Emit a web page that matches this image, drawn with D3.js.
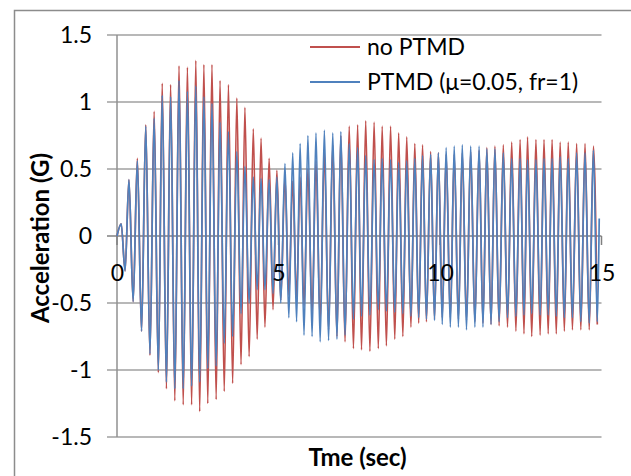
<!DOCTYPE html>
<html>
<head>
<meta charset="utf-8">
<script src="https://cdn.jsdelivr.net/npm/d3@7"></script>
<style>
  html, body { margin: 0; padding: 0; background: #fff; }
  svg { display: block; }
  text { font-family: Lato, "Open Sans", sans-serif; fill: #000; }
</style>
</head>
<body>
<svg id="chart" width="631" height="476"></svg>
<script>
// ---- Data ----
const seriesNames = ["no PTMD", "PTMD (\u03bc=0.05, fr=1)"];
const seriesColors = ["#C0504D", "#4F81BD"];

const xTicks = [0, 5, 10, 15];
const yTicks = [-1.5, -1, -0.5, 0, 0.5, 1, 1.5];

// initial transient (shared by both series)
const startTimes = [0, 0.13, 0.25];
const startValues = [0, 0.09, -0.26];

// times of positive peaks and of negative troughs (sec)
const peakTimes = [0.37, 0.63, 0.89, 1.15, 1.40, 1.66, 1.92, 2.18, 2.44, 2.69,
  2.94, 3.19, 3.45, 3.71, 3.96, 4.22, 4.46, 4.71, 4.95, 5.20,
  5.44, 5.67, 5.91, 6.16, 6.42, 6.68, 6.93, 7.19, 7.45, 7.70,
  7.96, 8.21, 8.47, 8.72, 8.97, 9.22, 9.46, 9.71, 9.95, 10.19,
  10.44, 10.69, 10.95, 11.21, 11.45, 11.70, 11.96, 12.22, 12.48, 12.71,
  12.97, 13.22, 13.47, 13.72, 13.97, 14.23, 14.49, 14.75];
const troughTimes = [0.50, 0.76, 1.02, 1.28, 1.53, 1.79, 2.05, 2.31, 2.56, 2.81,
  3.07, 3.32, 3.58, 3.84, 4.09, 4.34, 4.58, 4.83, 5.07, 5.32,
  5.56, 5.79, 6.04, 6.29, 6.55, 6.81, 7.06, 7.32, 7.57, 7.83,
  8.09, 8.34, 8.60, 8.85, 9.10, 9.34, 9.58, 9.83, 10.07, 10.32,
  10.57, 10.82, 11.08, 11.33, 11.58, 11.83, 12.09, 12.35, 12.60, 12.84,
  13.10, 13.35, 13.60, 13.85, 14.10, 14.36, 14.62, 14.87];

// no PTMD (G)
const noPtmdPeaks = [0.42, 0.58, 0.83, 0.93, 1.14, 1.13, 1.27, 1.26, 1.31, 1.28,
  1.28, 1.16, 1.13, 1.03, 0.96, 0.80, 0.73, 0.58, 0.49, 0.44,
  0.41, 0.44, 0.50, 0.56, 0.62, 0.68, 0.75, 0.82, 0.83, 0.86,
  0.85, 0.82, 0.82, 0.77, 0.74, 0.69, 0.68, 0.63, 0.62, 0.61,
  0.61, 0.62, 0.63, 0.64, 0.66, 0.67, 0.68, 0.70, 0.72, 0.74,
  0.72, 0.72, 0.72, 0.70, 0.70, 0.69, 0.69, 0.67];
const noPtmdTroughs = [-0.49, -0.71, -0.89, -1.02, -1.14, -1.23, -1.26, -1.26, -1.31, -1.25,
  -1.22, -1.16, -1.10, -0.96, -0.90, -0.77, -0.68, -0.55, -0.48, -0.44,
  -0.46, -0.52, -0.58, -0.64, -0.70, -0.75, -0.79, -0.84, -0.85, -0.86,
  -0.84, -0.82, -0.77, -0.75, -0.68, -0.65, -0.64, -0.62, -0.61, -0.61,
  -0.62, -0.63, -0.64, -0.65, -0.66, -0.67, -0.68, -0.71, -0.73, -0.75,
  -0.74, -0.73, -0.73, -0.71, -0.70, -0.70, -0.70, -0.66];

// PTMD (mu=0.05, fr=1) (G)
const ptmdPeaks = [0.42, 0.56, 0.82, 0.88, 1.05, 1.04, 1.16, 1.08, 1.12, 1.04,
  0.99, 0.85, 0.78, 0.63, 0.52, 0.44, 0.43, 0.42, 0.44, 0.54,
  0.62, 0.69, 0.75, 0.77, 0.79, 0.77, 0.78, 0.69, 0.66, 0.60,
  0.57, 0.58, 0.57, 0.55, 0.56, 0.58, 0.60, 0.61, 0.62, 0.66,
  0.67, 0.68, 0.67, 0.67, 0.65, 0.65, 0.62, 0.58, 0.58, 0.57,
  0.57, 0.58, 0.58, 0.59, 0.58, 0.62, 0.62, 0.64];
const ptmdTroughs = [-0.49, -0.71, -0.88, -1.00, -1.09, -1.14, -1.14, -1.12, -1.09, -0.99,
  -0.97, -0.80, -0.75, -0.58, -0.50, -0.40, -0.40, -0.43, -0.50, -0.61,
  -0.64, -0.74, -0.75, -0.79, -0.78, -0.77, -0.74, -0.62, -0.60, -0.59,
  -0.55, -0.56, -0.57, -0.58, -0.60, -0.61, -0.62, -0.63, -0.66, -0.68,
  -0.68, -0.70, -0.68, -0.68, -0.66, -0.64, -0.61, -0.60, -0.59, -0.58,
  -0.59, -0.59, -0.60, -0.61, -0.61, -0.64, -0.65, -0.64];
const ptmdTailTimes = [14.93];
const ptmdTailValues = [0.13];

// ---- Build point lists ----
function buildSeries(peaks, troughs, tailT, tailV) {
  const pts = [];
  startTimes.forEach((t, i) => pts.push({ t, v: startValues[i] }));
  peakTimes.forEach((t, i) => pts.push({ t, v: peaks[i] }));
  troughTimes.forEach((t, i) => pts.push({ t, v: troughs[i] }));
  tailT.forEach((t, i) => pts.push({ t, v: tailV[i] }));
  pts.sort((a, b) => a.t - b.t);
  return pts;
}
const series = [
  buildSeries(noPtmdPeaks, noPtmdTroughs, [], []),
  buildSeries(ptmdPeaks, ptmdTroughs, ptmdTailTimes, ptmdTailValues)
];

// ---- Layout ----
const svg = d3.select("#chart");
const plotLeft = 117, plotRight = 601.5, plotTop = 35, plotBottom = 437;
const x = d3.scaleLinear().domain([0, 15]).range([plotLeft, plotRight]);
const y = d3.scaleLinear().domain([-1.5, 1.5]).range([plotBottom, plotTop]);

svg.append("rect").attr("x", 0).attr("y", 0).attr("width", 631).attr("height", 476).attr("fill", "#fff");
svg.append("rect").attr("x", 14.5).attr("y", 10.5).attr("width", 700).attr("height", 600)
  .attr("fill", "none").attr("stroke", "#8c8c8c").attr("stroke-width", 1.5);

// gridlines (with outside tick marks)
svg.append("g").selectAll("line").data(yTicks).join("line")
  .attr("x1", plotLeft - 10).attr("x2", plotRight)
  .attr("y1", d => y(d)).attr("y2", d => y(d))
  .attr("stroke", d => d === 0 ? "#808080" : "#a0a0a0")
  .attr("stroke-width", 1.5);

// y axis line
svg.append("line").attr("x1", plotLeft).attr("x2", plotLeft).attr("y1", plotTop).attr("y2", plotBottom)
  .attr("stroke", "#909090").attr("stroke-width", 1.5);

// x tick marks
svg.append("g").selectAll("line").data(xTicks).join("line")
  .attr("x1", d => x(d)).attr("x2", d => x(d))
  .attr("y1", y(0)).attr("y2", y(0) + 9)
  .attr("stroke", "#808080").attr("stroke-width", 1.5);

// data lines
const line = d3.line().x(d => x(d.t)).y(d => y(d.v)).curve(d3.curveMonotoneX);
series.forEach((s, i) => {
  svg.append("path").datum(s)
    .attr("fill", "none")
    .attr("stroke", seriesColors[i])
    .attr("stroke-width", 1.7)
    .attr("stroke-linejoin", "round")
    .attr("d", line);
});

// y axis labels
const yAxis = d3.axisLeft(y).tickValues(yTicks).tickSize(0).tickPadding(25)
  .tickFormat(d => String(d));
const gy = svg.append("g").attr("transform", `translate(${plotLeft},0)`).call(yAxis);
gy.select(".domain").remove();
gy.selectAll("text").style("font-size", "23px").style("font-family", "Lato, sans-serif").attr("fill", "#000");

// x axis labels
const xAxis = d3.axisBottom(x).tickValues(xTicks).tickSize(0).tickPadding(29)
  .tickFormat(d => String(d));
const gx = svg.append("g").attr("transform", `translate(0,${y(0)})`).call(xAxis);
gx.select(".domain").remove();
gx.selectAll("text").style("font-size", "23px").style("font-family", "Lato, sans-serif").attr("fill", "#000");

// axis titles
svg.append("text")
  .attr("transform", `translate(49,238) rotate(-90)`)
  .attr("text-anchor", "middle")
  .style("font-size", "24px").style("font-weight", "bold")
  .text("Acceleration (G)");
svg.append("text")
  .attr("x", 357.5).attr("y", 466)
  .attr("text-anchor", "middle")
  .style("font-size", "24px").style("font-weight", "bold")
  .text("Tme (sec)");

// legend
const legendY = [47, 82];
const lg = svg.append("g");
seriesNames.forEach((name, i) => {
  lg.append("line").attr("x1", 310).attr("x2", 360)
    .attr("y1", legendY[i]).attr("y2", legendY[i])
    .attr("stroke", seriesColors[i]).attr("stroke-width", 1.8);
  lg.append("text").attr("x", 367).attr("y", legendY[i]).attr("dy", "0.35em")
    .style("font-size", "23px").text(name);
});
</script>
</body>
</html>
